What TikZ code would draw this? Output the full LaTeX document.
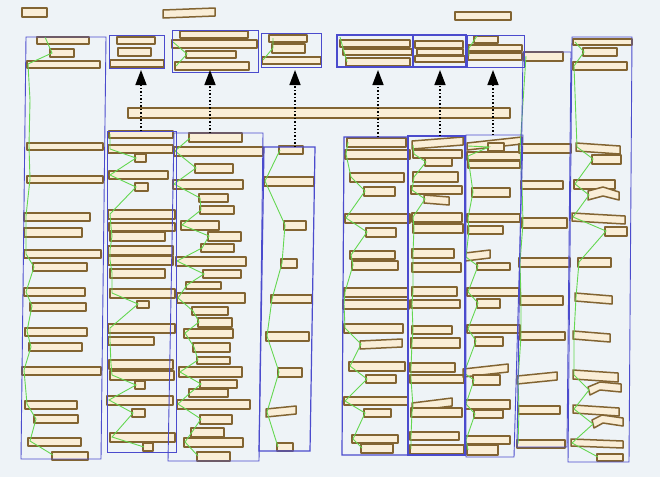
\documentclass[tikz,border=0pt]{standalone}
\usetikzlibrary{arrows.meta}
\definecolor{bgc}{RGB}{238,243,247}
\definecolor{tanfill}{RGB}{250,238,215}
\definecolor{tandraw}{RGB}{130,100,50}
\definecolor{colblue}{RGB}{75,75,205}
\definecolor{lgreen}{RGB}{100,215,80}
\tikzset{
  tb/.style={draw=tandraw,fill=tanfill,line width=1.5pt,line join=round},
  cb/.style={draw=colblue,line width=0.9pt},
  gr/.style={draw=lgreen,line width=0.9pt},
  arr/.style={black,line width=1.5pt,dash pattern=on 1.5pt off 2pt,-{Triangle[length=15pt,width=11pt]}}
}
\newcommand\tbx[4]{\draw[tb] (#1,#2) rectangle (#3,#4);}
\newcommand\tsl[8]{\draw[tb] (#1,#2) -- (#3,#4) -- (#5,#6) -- (#7,#8) -- cycle;}
\begin{document}
\begin{tikzpicture}[x=1pt,y=-1pt]
\useasboundingbox (0,0) rectangle (660,477);
\fill[bgc] (0,0) rectangle (660,477);
% stray boxes
\tbx{22}{8}{47}{17}
\tsl{163}{10}{215}{8}{215}{16}{163}{18}
\tbx{455}{12}{511}{20}
% horizontal bar
\tbx{128}{108}{510}{118}
% column 1
\tbx{37}{37}{89}{44}\tbx{50}{49}{74}{57}\tbx{27}{61}{100}{68}
\tbx{27}{143}{103}{150}\tbx{27}{176}{103}{183}\tbx{24}{213}{90}{221}\tbx{24}{228}{82}{237}
\tbx{24}{250}{101}{258}\tbx{33}{263}{87}{271}\tbx{24}{288}{85}{296}\tbx{30}{303}{86}{311}
\tbx{25}{328}{87}{336}\tbx{29}{343}{82}{351}\tbx{22}{367}{101}{375}\tbx{25}{401}{77}{409}
\tbx{34}{415}{78}{423}\tbx{28}{438}{81}{446}\tbx{52}{452}{88}{460}
% column A
\tbx{109}{131}{173}{138}\tbx{108}{145}{173}{153}\tbx{135}{154}{146}{162}\tbx{109}{171}{168}{179}
\tbx{135}{183}{148}{191}\tbx{108}{210}{175}{219}\tbx{109}{223}{175}{231}\tbx{110}{232}{165}{241}
\tbx{108}{246}{173}{255}\tbx{108}{256}{173}{265}\tbx{110}{269}{165}{278}\tbx{110}{289}{175}{298}
\tbx{137}{301}{149}{308}\tbx{108}{324}{175}{333}\tbx{108}{337}{154}{345}\tbx{109}{360}{173}{369}
\tbx{110}{371}{174}{380}\tbx{135}{381}{145}{389}\tbx{107}{396}{173}{405}\tbx{132}{409}{145}{417}
\tbx{110}{433}{175}{442}\tbx{143}{443}{153}{451}
% column B
\tbx{189}{133}{242}{142}\tbx{174}{147}{263}{156}\tbx{195}{164}{233}{173}\tbx{173}{180}{243}{189}
\tbx{199}{194}{228}{202}\tbx{200}{206}{234}{214}\tbx{181}{221}{219}{230}\tbx{208}{232}{241}{241}
\tbx{201}{244}{234}{252}\tbx{176}{257}{246}{266}\tbx{203}{270}{241}{278}\tbx{186}{282}{221}{289}
\tbx{177}{293}{245}{303}\tbx{192}{307}{228}{315}\tbx{198}{318}{232}{327}\tbx{184}{329}{233}{338}
\tbx{193}{343}{230}{352}\tbx{197}{357}{230}{364}\tbx{179}{367}{242}{377}\tbx{200}{380}{237}{388}
\tbx{189}{389}{228}{397}\tbx{177}{400}{250}{409}\tbx{200}{415}{232}{424}\tbx{191}{428}{224}{437}
\tbx{184}{438}{243}{447}\tbx{197}{452}{230}{461}
% column C
\tbx{279}{146}{303}{154}\tbx{264}{177}{314}{186}\tbx{284}{221}{306}{230}\tbx{281}{259}{297}{268}
\tbx{271}{295}{312}{303}\tbx{266}{332}{309}{341}\tbx{278}{368}{302}{377}\tsl{266}{409}{296}{406}{296}{414}{266}{417}
\tbx{277}{443}{293}{451}
% column D
\tbx{347}{138}{406}{147}\tbx{345}{150}{410}{159}\tbx{350}{173}{404}{182}\tbx{364}{187}{395}{196}
\tbx{345}{214}{410}{223}\tbx{366}{228}{396}{237}\tbx{350}{251}{395}{259}\tbx{352}{261}{398}{270}
\tbx{344}{288}{408}{297}\tbx{343}{300}{409}{309}\tbx{344}{324}{403}{333}\tsl{360}{341}{402}{339}{402}{347}{360}{349}
\tbx{349}{362}{405}{371}\tbx{366}{375}{396}{383}\tbx{344}{397}{408}{405}\tbx{364}{409}{391}{417}
\tbx{352}{435}{398}{443}\tbx{361}{444}{393}{453}
% column E
\tsl{412}{141}{463}{137}{463}{145}{412}{149}\tbx{413}{150}{462}{158}\tbx{425}{158}{452}{166}
\tbx{413}{172}{458}{182}\tbx{411}{186}{462}{194}\tsl{424}{195}{449}{197}{449}{205}{424}{203}
\tbx{412}{213}{462}{222}\tbx{413}{224}{463}{233}\tbx{412}{249}{454}{258}\tbx{412}{263}{461}{272}
\tbx{412}{287}{457}{296}\tbx{411}{300}{460}{308}\tbx{412}{326}{452}{334}\tbx{411}{338}{460}{348}
\tbx{410}{363}{455}{372}\tbx{410}{375}{464}{383}\tsl{412}{403}{452}{398}{452}{406}{412}{411}
\tbx{411}{408}{462}{417}\tbx{410}{432}{459}{440}\tbx{410}{445}{464}{454}
% column F
\tsl{467}{143}{522}{137}{522}{144}{467}{150}\tbx{488}{143}{504}{151}\tbx{467}{152}{522}{160}
\tbx{468}{161}{520}{168}\tbx{472}{188}{510}{197}\tbx{467}{214}{520}{222}\tbx{468}{226}{503}{234}
\tsl{465}{253}{490}{250}{490}{258}{465}{261}\tbx{477}{263}{510}{270}\tbx{467}{288}{520}{296}
\tbx{477}{299}{500}{308}\tbx{467}{325}{520}{333}\tbx{475}{337}{503}{346}
\tsl{463}{369}{508}{364}{508}{372}{463}{377}\tbx{473}{375}{500}{385}\tbx{465}{400}{510}{409}
\tbx{474}{410}{503}{418}\tbx{465}{436}{510}{444}\tbx{467}{445}{498}{455}
% column G
\tbx{524}{52}{563}{61}\tbx{519}{144}{571}{153}\tbx{521}{181}{563}{189}\tbx{522}{218}{567}{228}
\tbx{519}{258}{570}{267}\tbx{520}{296}{563}{305}\tbx{520}{332}{565}{340}
\tsl{517}{376}{557}{372}{557}{380}{517}{384}\tbx{518}{406}{560}{414}\tbx{517}{440}{565}{448}
% column H
\tbx{573}{39}{632}{45}\tbx{583}{48}{617}{56}\tbx{573}{62}{627}{70}
\tsl{576}{143}{620}{146}{620}{154}{576}{151}\tbx{592}{155}{621}{164}\tbx{574}{180}{615}{189}
\draw[tb] (588,191) -- (603,187) -- (619,192) -- (619,200) -- (603,196) -- (588,200) -- cycle;
\tsl{572}{213}{625}{216}{625}{224}{572}{221}\tbx{605}{227}{627}{236}\tbx{578}{258}{611}{267}
\tsl{575}{293}{612}{296}{612}{304}{575}{301}\tsl{573}{331}{610}{334}{610}{342}{573}{339}
\tsl{573}{370}{618}{373}{618}{382}{573}{379}
\draw[tb] (588,387) -- (600,382) -- (621,384) -- (621,392) -- (600,390) -- (590,395) -- cycle;
\tsl{573}{405}{619}{408}{619}{416}{573}{413}
\draw[tb] (592,420) -- (602,415) -- (623,418) -- (623,426) -- (603,423) -- (594,428) -- cycle;
\tsl{571}{439}{623}{441}{623}{448}{571}{446}\tbx{597}{454}{623}{461}
% top boxes left
\tbx{117}{37}{155}{44}\tbx{118}{48}{151}{56}\tbx{110}{60}{164}{67}
\tbx{180}{31}{248}{38}\tbx{172}{40}{257}{48}\tbx{186}{51}{236}{58}\tbx{175}{62}{249}{70}
\tbx{269}{35}{307}{42}\tbx{272}{44}{305}{53}\tbx{262}{57}{321}{64}
% top boxes right
\tbx{340}{40}{410}{47}\tbx{343}{49}{412}{55}\tbx{346}{58}{410}{66}
\tbx{415}{41}{463}{48}\tbx{417}{49}{463}{55}\tbx{415}{56}{465}{62}
\tbx{474}{36}{498}{43}\tbx{468}{45}{522}{51}\tbx{468}{53}{522}{60}
% green reading-order lines
\draw[gr] (45,37) -- (52,53) -- (28,64) -- (30,100) -- (29,146) -- (30,179) -- (26,216) -- (26,232) -- (26,254) -- (34,267) -- (26,292) -- (32,306) -- (27,331) -- (31,347) -- (24,370) -- (27,404) -- (36,419) -- (30,441) -- (53,455);
\draw[gr] (110,134) -- (110,149) -- (136,158) -- (110,175) -- (136,187) -- (110,214) -- (111,227) -- (112,236) -- (110,250) -- (110,260) -- (112,273) -- (112,293) -- (138,304) -- (110,328) -- (110,341) -- (111,364) -- (112,375) -- (136,385) -- (109,400) -- (133,413) -- (112,437) -- (144,447);
\draw[gr] (190,138) -- (175,151) -- (196,168) -- (174,184) -- (200,198) -- (201,210) -- (182,225) -- (209,236) -- (202,248) -- (177,261) -- (204,274) -- (187,285) -- (178,298) -- (193,311) -- (199,322) -- (185,333) -- (194,347) -- (198,360) -- (180,372) -- (201,384) -- (190,393) -- (178,404) -- (201,419) -- (192,432) -- (185,442) -- (198,456);
\draw[gr] (280,150) -- (265,181) -- (285,225) -- (282,263) -- (272,299) -- (267,336) -- (279,372) -- (267,412) -- (278,447);
\draw[gr] (348,142) -- (346,154) -- (351,177) -- (365,191) -- (346,218) -- (367,232) -- (351,255) -- (353,265) -- (345,292) -- (344,304) -- (345,328) -- (361,344) -- (350,366) -- (367,379) -- (345,401) -- (365,413) -- (353,439) -- (362,448);
\draw[gr] (413,145) -- (414,154) -- (426,162) -- (414,177) -- (412,190) -- (425,199) -- (413,217) -- (414,228) -- (413,253) -- (413,267) -- (413,291) -- (412,304) -- (413,330) -- (412,343) -- (411,367) -- (411,379) -- (413,407) -- (412,412) -- (411,436) -- (411,449);
\draw[gr] (468,146) -- (489,147) -- (468,156) -- (469,164) -- (473,192) -- (468,218) -- (469,230) -- (466,257) -- (478,266) -- (468,292) -- (478,303) -- (468,329) -- (476,341) -- (464,373) -- (474,380) -- (466,404) -- (475,414) -- (466,440) -- (468,450);
\draw[gr] (526,56) -- (520,148) -- (522,185) -- (523,223) -- (520,262) -- (521,300) -- (521,336) -- (518,380) -- (519,410) -- (518,444);
\draw[gr] (575,42) -- (584,52) -- (574,66) -- (577,147) -- (593,159) -- (575,184) -- (589,195) -- (573,217) -- (606,231) -- (579,262) -- (576,297) -- (574,335) -- (574,375) -- (589,390) -- (574,409) -- (593,424) -- (572,443) -- (598,457);
\draw[gr] (173,42) -- (187,54) -- (176,66);
\draw[gr] (273,38) -- (273,48) -- (263,60);
\draw[gr] (340,37) -- (344,52) -- (347,62);
\draw[gr] (477,36) -- (469,48) -- (469,56);
% blue column boxes
\draw[cb] (26,37) -- (106,37) -- (101,459) -- (21,459) -- cycle;
\draw[cb] (107,131) -- (176,131) -- (176,452) -- (107,452) -- cycle;
\draw[cb] (174,133) -- (263,133) -- (259,461) -- (168,461) -- cycle;
\draw[cb,line width=1.2pt] (264,147) -- (315,147) -- (310,451) -- (259,451) -- cycle;
\draw[cb,line width=1.2pt] (344,137) -- (408,137) -- (408,455) -- (342,455) -- cycle;
\draw[cb,line width=1.2pt] (408,136) -- (465,136) -- (465,455) -- (408,455) -- cycle;
\draw[cb] (466,135) -- (523,135) -- (514,457) -- (466,457) -- cycle;
\draw[cb] (523,52) -- (571,52) -- (567,447) -- (517,447) -- cycle;
\draw[cb] (572,37) -- (632,37) -- (629,462) -- (568,462) -- cycle;
\draw[cb] (109,35) rectangle (164,68);
\draw[cb] (172,30) rectangle (258,72);
\draw[cb] (261,33) rectangle (321,67);
\draw[cb,line width=1.2pt] (337,35) rectangle (413,67);
\draw[cb,line width=1.2pt] (413,35) rectangle (466,67);
\draw[cb] (467,35) rectangle (524,67);
% arrows
\foreach \nm/\xx/\yy in {a/141/131, b/210/133, c/295/147, d/378/137, e/440/136, f/493/135}{
  \coordinate (\nm s) at (\xx,\yy);
  \coordinate (\nm t) at (\xx,70);
  \draw[arr] (\nm s) -- (\nm t);
}
\end{tikzpicture}
\end{document}
